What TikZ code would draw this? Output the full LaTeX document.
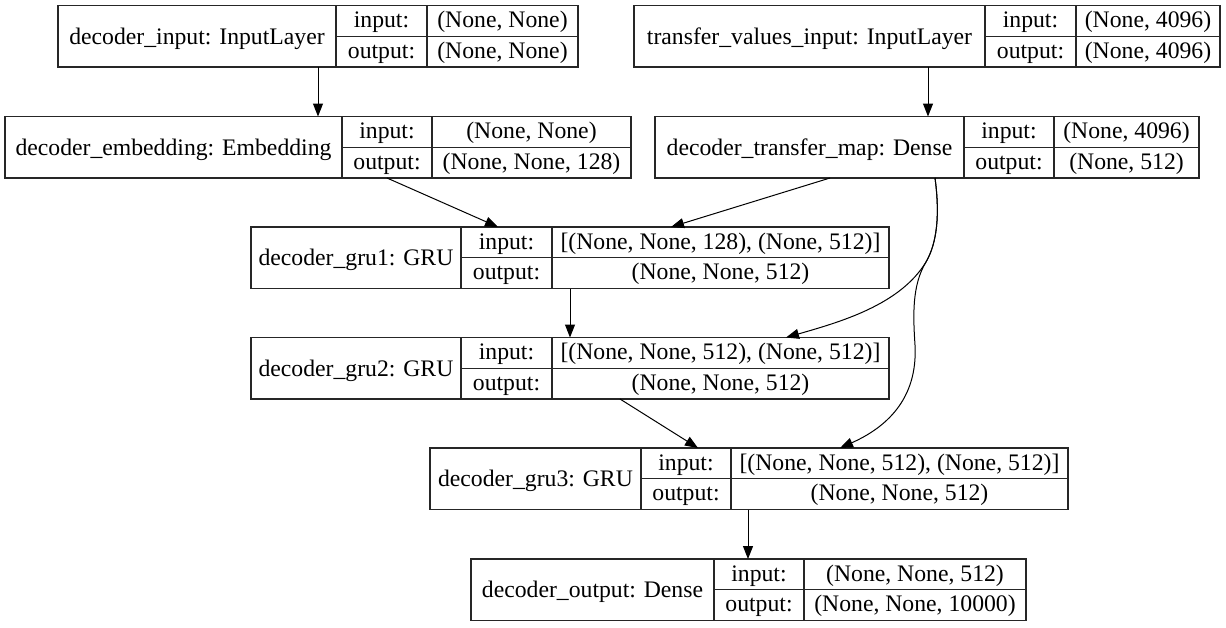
\documentclass[tikz,border=0pt]{standalone}
\usepackage{fontspec}
\setmainfont{Liberation Serif}
\newfontfamily\timesx{Liberation Serif}
\usetikzlibrary{arrows.meta,calc}
\tikzset{
  boxline/.style={draw=black!85, line width=1.1pt},
  txt/.style={inner sep=0pt, anchor=base, font=\timesx\fontsize{23.7}{28}\selectfont},
  arr/.style={draw=black, line width=1pt, -{Triangle[length=13pt,width=10pt]}},
}
% #1 name, #2 x0, #3 name|label divider, #4 label|value divider, #5 x1, #6 top y, #7 title, #8 input, #9 output
\newcommand\layerbox[9]{%
  \node[boxline, anchor=north west, minimum width={(#5-#2)*1pt}, minimum height=61.5pt, inner sep=0pt, outer sep=0pt] (#1) at (#2,#6) {};
  \draw[boxline] (#3,#6) -- (#3,#6+61.5);
  \draw[boxline] (#4,#6) -- (#4,#6+61.5);
  \draw[boxline] (#3,#6+30.75) -- (#5,#6+30.75);
  \node[txt] (#1-title) at ({(#2+#3)/2},#6+38.5) {#7};
  \node[txt] (#1-il) at ({(#3+#4)/2},#6+22) {input:};
  \node[txt] (#1-ol) at ({(#3+#4)/2},#6+52.5) {output:};
  \node[txt] (#1-iv) at ({(#4+#5)/2},#6+22) {#8};
  \node[txt] (#1-ov) at ({(#4+#5)/2},#6+52.5) {#9};
}
\begin{document}
\begin{tikzpicture}[x=1pt,y=-1pt]
\useasboundingbox (0,0) rectangle (1226,627);
\layerbox{in}{58}{336}{427}{578}{5.5}{decoder\_input: InputLayer}{(None, None)}{(None, None)}
\layerbox{tv}{634}{985}{1076}{1220}{5.5}{transfer\_values\_input: InputLayer}{(None, 4096)}{(None, 4096)}
\layerbox{emb}{5}{342}{432}{631}{116.5}{decoder\_embedding: Embedding}{(None, None)}{(None, None, 128)}
\layerbox{tmap}{655}{964}{1054}{1199}{116.5}{decoder\_transfer\_map: Dense}{(None, 4096)}{(None, 512)}
\layerbox{gru1}{251}{461}{552}{889}{227}{decoder\_gru1: GRU}{[(None, None, 128), (None, 512)]}{(None, None, 512)}
\layerbox{gru2}{251}{461}{552}{889}{337.5}{decoder\_gru2: GRU}{[(None, None, 512), (None, 512)]}{(None, None, 512)}
\layerbox{gru3}{430}{641}{731}{1068}{448}{decoder\_gru3: GRU}{[(None, None, 512), (None, 512)]}{(None, None, 512)}
\layerbox{out}{471}{714}{804}{1026}{559}{decoder\_output: Dense}{(None, None, 512)}{(None, None, 10000)}

\draw[arr] ($(in.south west)+(260,0)$) -- ($(emb.north west)+(313,0)$);
\draw[arr] ($(tv.south west)+(294,0)$) -- ($(tmap.north west)+(273,0)$);
\draw[arr] ($(emb.south west)+(382,0)$) -- ($(gru1.north west)+(247,0)$);
\draw[arr] ($(tmap.south west)+(175,0)$) -- ($(gru1.north west)+(420,0)$);
\draw[arr] ($(gru1.south west)+(319,0)$) -- ($(gru2.north west)+(319,0)$);
\draw[arr] ($(tmap.south west)+(280,0)$) .. controls (940,215) and (937,243) .. (926,262)
  .. controls (900,305) and (840,322) .. ($(gru2.north west)+(535,0)$);
\draw[arr] ($(tmap.south west)+(280,0)$) .. controls (940,215) and (937,243) .. (926,262)
  .. controls (912,285) and (913,315) .. (915,345)
  .. controls (918,400) and (885,428) .. ($(gru3.north west)+(410,0)$);
\draw[arr] ($(gru2.south west)+(369,0)$) -- ($(gru3.north west)+(268,0)$);
\draw[arr] ($(gru3.south west)+(318,0)$) -- ($(out.north west)+(277,0)$);
\end{tikzpicture}
\end{document}
